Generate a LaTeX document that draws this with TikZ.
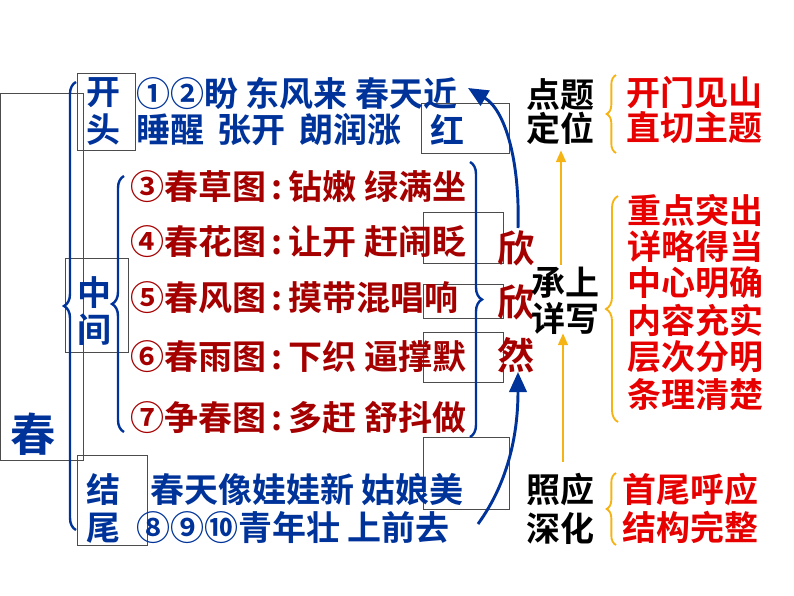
\documentclass[tikz,border=0pt]{standalone}
\usepackage{fontspec}
\setmainfont{Noto Sans CJK SC}[BoldFont={Noto Sans CJK SC Bold}]
\usetikzlibrary{decorations.pathreplacing,arrows.meta}
\definecolor{bl}{RGB}{0,51,153}
\definecolor{dr}{RGB}{165,0,0}
\definecolor{rd}{RGB}{230,0,0}
\definecolor{yl}{RGB}{245,180,20}
\begin{document}
\begin{tikzpicture}[x=0.75pt,y=-0.75pt,
  t/.style={inner sep=0pt,font=\fontsize{25.5}{28}\selectfont\bfseries},
  tb/.style={t,text=bl,anchor=west},
  tr/.style={t,text=dr,anchor=west},
  tk/.style={t,text=black},
  tred/.style={t,text=rd},
  bx/.style={draw=black!70,line width=0.6pt},
  brc/.style={decorate,decoration={brace,amplitude=9pt},line width=1.8pt},
  arr/.style={draw=bl,line width=2.2pt,-{Triangle[length=15pt,width=13pt]}},
  yarr/.style={draw=yl,line width=2.2pt,-{Triangle[length=9pt,width=7pt]}}]
\useasboundingbox (0,0) rectangle (794,596);
% boxes
\draw[bx] (0,93) rectangle (83,460);
\draw[bx] (77,73) rectangle (135,150);
\draw[bx] (421,103) rectangle (509,153);
\draw[bx] (65,258) rectangle (128,352);
\draw[bx] (423,212) rectangle (503,263);
\draw[bx] (423,284) rectangle (503,318);
\draw[bx] (423,332) rectangle (503,382);
\draw[bx] (423,437) rectangle (509,509);
\draw[bx] (77,455) rectangle (147,545);
\node[t,text=bl,font=\fontsize{34}{36}\selectfont\bfseries] (chun) at (33,434) {春};
% braces
\draw[brc,draw=bl] (76,530) -- (76,82);
\draw[brc,draw=bl] (124,432) -- (124,176);
\draw[brc,draw=bl] (470,162) -- (470,437);
% beginning
\node[tb] (k1) at (86,93) {开};
\node[tb] (k2) at (86,130) {头};
\node[tb] (l1) at (136,93) {①②盼 东风来 春天近};
\node[tb] (l2) at (136,130) {睡醒\, 张开\, 朗润涨};
\node[tb] (hong) at (430,130) {红};
\node[tb] (z1) at (77,293) {中};
\node[tb] (z2) at (77,330) {间};
\node[tr] (r3) at (130,187) {③春草图\,:\,钻嫩 绿满坐};
\node[tr] (r4) at (130,242) {④春花图\,:\,让开 赶闹眨};
\node[tr] (r5) at (130,298) {⑤春风图\,:\,摸带混唱响};
\node[tr] (r6) at (130,357) {⑥春雨图\,:\,下织 逼撑默};
\node[tr] (r7) at (130,418) {⑦争春图\,:\,多赶 舒抖做};
\node[tb] (j1) at (86,490) {结};
\node[tb] (j2) at (86,528) {尾};
\node[tb] (e1) at (150,490) {春天像娃娃新 姑娘美};
\node[tb] (e2) at (136,528) {⑧⑨⑩青年壮 上前去};
\node[t,text=dr,font=\fontsize{28}{30}\selectfont\bfseries] (x1) at (516,248) {欣};
\node[t,text=dr,font=\fontsize{28}{30}\selectfont\bfseries] (x2) at (516,302) {欣};
\node[t,text=dr,font=\fontsize{28}{30}\selectfont\bfseries] (x3) at (516,355) {然};
\coordinate (a1s) at (518,228);
\coordinate (a1e) at (468,88);
\draw[arr] (a1s) .. controls (520,160) and (505,110) .. (a1e);
\coordinate (a2s) at (478,524);
\coordinate (a2e) at (518,372);
\draw[arr] (a2s) .. controls (510,480) and (518,430) .. (a2e);
% right side
\node[tk] (d1) at (560,95) {点题};
\node[tk] (d2) at (560,128) {定位};
\node[tk] (c1) at (565,283) {承上};
\node[tk] (c2) at (565,318) {详写};
\node[tk] (h1) at (560,490) {照应};
\node[tk] (h2) at (560,528) {深化};
\draw[yarr] (561,265) -- (561,150);
\draw[yarr] (563,462) -- (563,333);
\draw[brc,draw=yl,line width=1.4pt,decoration={amplitude=7pt}] (616,153) -- (616,75);
\draw[brc,draw=yl,line width=1.4pt,decoration={amplitude=9pt}] (618,422) -- (618,196);
\draw[brc,draw=yl,line width=1.4pt,decoration={amplitude=7pt}] (616,545) -- (616,473);
\node[tred] (m1) at (694,93) {开门见山};
\node[tred] (m2) at (694,128) {直切主题};
\foreach \s/\y [count=\i] in {重点突出/210,详略得当/246,中心明确/283,内容充实/320,层次分明/357,条理清楚/395}
  \node[tred] (p\i) at (695,\y) {\s};
\node[tred] (w1) at (690,490) {首尾呼应};
\node[tred] (w2) at (690,527) {结构完整};
\end{tikzpicture}
\end{document}
